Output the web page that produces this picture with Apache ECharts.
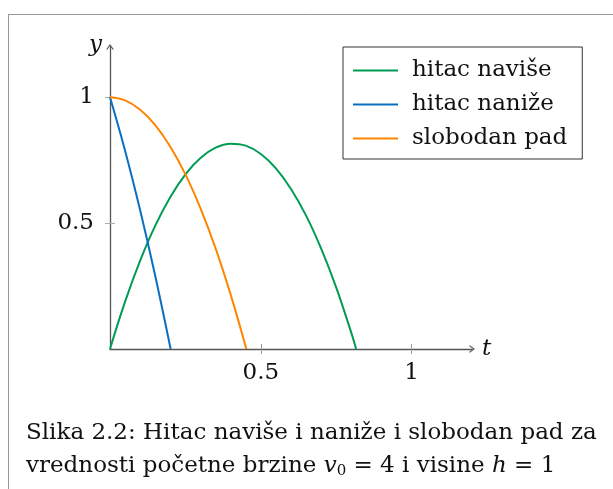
<!DOCTYPE html>
<html>
<head>
<meta charset="utf-8">
<script src="https://cdn.jsdelivr.net/npm/echarts@6/dist/echarts.min.js"></script>
<style>
  html, body { margin: 0; padding: 0; background: #fff; }
  #main { width: 613px; height: 489px; }
</style>
</head>
<body>
<div id="main"></div>
<script>
// values (t in s, y in m)
var tUp = [0, 0.05, 0.1, 0.15, 0.2, 0.25, 0.3, 0.35, 0.4, 0.45, 0.5, 0.55, 0.6, 0.65, 0.7, 0.75, 0.8, 0.816];
var yUp = [0, 0.188, 0.351, 0.49, 0.604, 0.694, 0.759, 0.8, 0.816, 0.808, 0.775, 0.718, 0.636, 0.53, 0.399, 0.244, 0.064, 0];
var tDown = [0, 0.05, 0.1, 0.15, 0.201];
var yDown = [1, 0.788, 0.551, 0.29, 0];
var tFall = [0, 0.05, 0.1, 0.15, 0.2, 0.25, 0.3, 0.35, 0.4, 0.452];
var yFall = [1, 0.988, 0.951, 0.89, 0.804, 0.694, 0.559, 0.4, 0.216, 0];
var names = ['hitac naviše', 'hitac naniže', 'slobodan pad'];
var colors = ['#009c55', '#0a6fc2', '#ff8400'];
var tickVals = [0.5, 1];

var FONT = 'DejaVu Serif';
var chevron = 'path://M5,0 L10,7 L9,8 L5,2.6 L1,8 L0,7 Z';

function pairs(xs, ys) {
    var out = [];
    for (var i = 0; i < xs.length; i++) out.push([xs[i], ys[i]]);
    return out;
}

var myChart = echarts.init(document.getElementById('main'), null, { renderer: 'canvas' });
myChart.setOption({
    animation: false,
    color: colors,
    textStyle: { fontFamily: FONT },
    title: {
        left: 21,
        top: 412,
        text: 'Slika 2.2: Hitac naviše i naniže i slobodan pad za\n' +
              'vrednosti početne brzine {i|v}{sub|0} = 4 i visine {i|h} = 1',
        textStyle: {
            fontFamily: FONT, fontSize: 23, fontWeight: 'normal', color: '#111', lineHeight: 33,
            rich: {
                i: { fontFamily: FONT, fontSize: 23, fontStyle: 'italic', color: '#111' },
                sub: { fontFamily: FONT, fontSize: 15, color: '#111', padding: [9, 0, 0, 0] }
            }
        }
    },
    legend: {
        orient: 'vertical',
        left: 343,
        top: 47,
        padding: [12, 15, 9, 10],
        borderColor: '#333',
        borderWidth: 1,
        icon: 'rect',
        itemWidth: 45,
        itemHeight: 2,
        itemGap: 11,
        data: names,
        textStyle: { fontFamily: FONT, fontSize: 23, color: '#111', padding: [0, 0, 0, 9], lineHeight: 23 }
    },
    grid: { left: 110, top: 47, width: 362, height: 302, containLabel: false },
    xAxis: [{
        type: 'value', min: 0, max: 1.2,
        name: 't', nameLocation: 'end', nameGap: 10,
        nameTextStyle: { fontFamily: FONT, fontSize: 23, fontStyle: 'italic', color: '#111', verticalAlign: 'middle' },
        axisLine: { lineStyle: { color: '#555', width: 1.3 }, symbol: ['none', chevron], symbolSize: [9, 6] },
        axisTick: { show: true, length: 5, customValues: tickVals, lineStyle: { color: '#999' } },
        axisLabel: { customValues: tickVals, margin: 13, fontFamily: FONT, fontSize: 23, color: '#111' },
        splitLine: { show: false }
    }, {
        type: 'value', min: 0, max: 1.2, position: 'bottom',
        axisLine: { show: false },
        axisTick: { show: true, inside: true, length: 5, customValues: tickVals, lineStyle: { color: '#999' } },
        axisLabel: { show: false },
        splitLine: { show: false }
    }],
    yAxis: [{
        type: 'value', min: 0, max: 1.2,
        name: 'y', nameLocation: 'end', nameGap: 2,
        nameTextStyle: { fontFamily: FONT, fontSize: 23, fontStyle: 'italic', color: '#111', align: 'right', verticalAlign: 'middle', padding: [0, 8, 0, 0] },
        axisLine: { lineStyle: { color: '#555', width: 1.3 }, symbol: ['none', chevron], symbolSize: [9, 6] },
        axisTick: { show: true, length: 5, customValues: tickVals, lineStyle: { color: '#aaa' } },
        axisLabel: { customValues: tickVals, margin: 16, fontFamily: FONT, fontSize: 23, color: '#111' },
        splitLine: { show: false }
    }, {
        type: 'value', min: 0, max: 1.2, position: 'left',
        axisLine: { show: false },
        axisTick: { show: true, inside: true, length: 5, customValues: tickVals, lineStyle: { color: '#aaa' } },
        axisLabel: { show: false },
        splitLine: { show: false }
    }],
    graphic: [
        { type: 'line', shape: { x1: 8, y1: 14.5, x2: 613, y2: 14.5 }, style: { stroke: '#999', lineWidth: 1 } },
        { type: 'line', shape: { x1: 8.5, y1: 14, x2: 8.5, y2: 489 }, style: { stroke: '#999', lineWidth: 1 } }
    ],
    series: [
        { name: names[0], type: 'line', data: pairs(tUp, yUp), showSymbol: false, smooth: 0.4, lineStyle: { width: 2 } },
        { name: names[1], type: 'line', data: pairs(tDown, yDown), showSymbol: false, smooth: 0.4, lineStyle: { width: 2 } },
        { name: names[2], type: 'line', data: pairs(tFall, yFall), showSymbol: false, smooth: 0.4, lineStyle: { width: 2 } }
    ]
});
</script>
</body>
</html>
